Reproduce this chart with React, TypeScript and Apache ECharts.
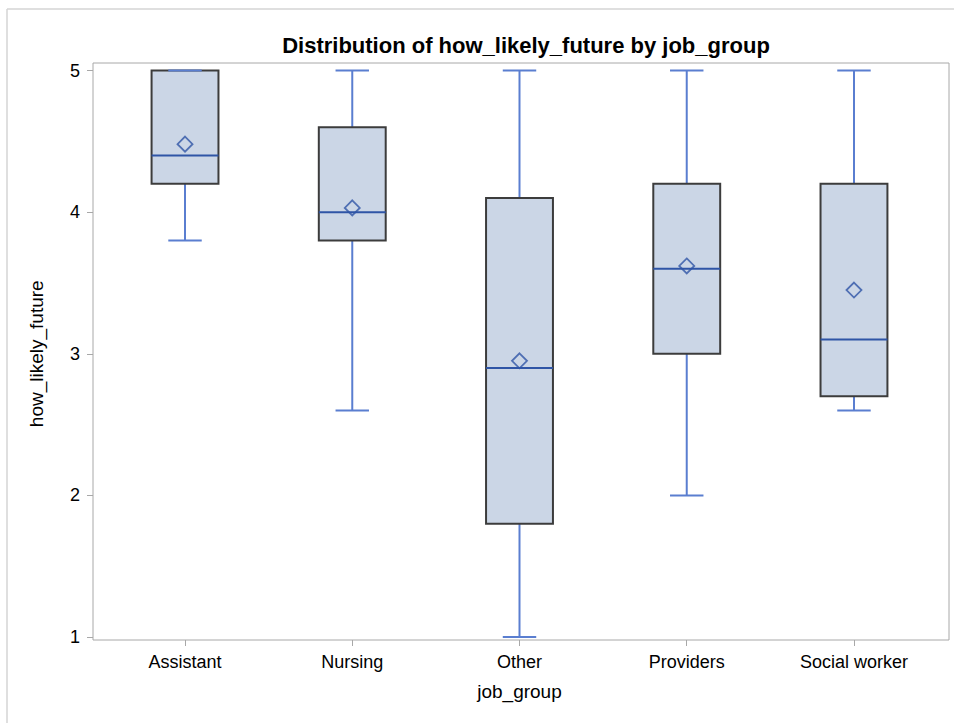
import React, { useEffect, useRef } from "react";
import * as echarts from "echarts";

const categories = ["Assistant", "Nursing", "Other", "Providers", "Social worker"];
const minValues = [3.8, 2.6, 1.0, 2.0, 2.6];
const q1Values = [4.2, 3.8, 1.8, 3.0, 2.7];
const medianValues = [4.4, 4.0, 2.9, 3.6, 3.1];
const q3Values = [5.0, 4.6, 4.1, 4.2, 4.2];
const maxValues = [5.0, 5.0, 5.0, 5.0, 5.0];
const meanValues = [4.48, 4.03, 2.95, 3.62, 3.45];

const BOX_FILL = "#cbd6e6";
const BOX_EDGE = "#3c3c3c";
const MEDIAN = "#2f55a6";
const WHISKER = "#5a7ed0";
const FONT = "Liberation Sans";

export default function App() {
  const ref = useRef<HTMLDivElement>(null);
  useEffect(() => {
    if (!ref.current) return;
    const chart = echarts.init(ref.current, null, { renderer: "svg" });
    const boxData = categories.map((_, i) => [
      i,
      minValues[i],
      q1Values[i],
      medianValues[i],
      q3Values[i],
      maxValues[i],
    ]);
    const meanData = categories.map((_, i) => [i, meanValues[i]]);
    chart.setOption({
      animation: false,
      title: {
        text: "Distribution of how_likely_future by job_group",
        left: 521,
        top: 29,
        textAlign: "center",
        textStyle: {
          fontFamily: FONT,
          fontSize: 22,
          fontWeight: "bold",
          color: "#000",
        },
      },
      graphic: [
        {
          type: "line",
          shape: { x1: 7, y1: 9, x2: 954, y2: 9 },
          style: { stroke: "#d4d4d4", lineWidth: 1.5 },
          silent: true,
        },
        {
          type: "line",
          shape: { x1: 7, y1: 9, x2: 7, y2: 723 },
          style: { stroke: "#d4d4d4", lineWidth: 1.5 },
          silent: true,
        },
      ],
      grid: [
        {
          left: 93,
          right: 5,
          top: 63,
          bottom: 83,
          show: true,
          borderColor: "#a8a8a8",
          borderWidth: 1,
          backgroundColor: "transparent",
        },
        {
          left: 101.4,
          right: 16.4,
          top: 70.5,
          bottom: 86,
        },
      ],
      xAxis: [
        { gridIndex: 0, type: "value", show: false, min: 0, max: 1 },
        {
          gridIndex: 1,
          type: "category",
          data: categories,
          offset: 3,
          name: "job_group",
          nameLocation: "middle",
          nameGap: 42,
          nameTextStyle: { fontFamily: FONT, fontSize: 19, color: "#000" },
          axisLine: { show: false },
          axisTick: {
            show: true,
            alignWithLabel: true,
            length: 6,
            lineStyle: { color: "#a8a8a8" },
          },
          axisLabel: {
            margin: 13,
            fontFamily: FONT,
            fontSize: 18,
            color: "#000",
          },
          splitLine: { show: false },
        },
      ],
      yAxis: [
        { gridIndex: 0, type: "value", show: false, min: 0, max: 1 },
        {
          gridIndex: 1,
          type: "value",
          min: 1,
          max: 5,
          interval: 1,
          offset: 8.4,
          name: "how_likely_future",
          nameLocation: "middle",
          nameGap: 47,
          nameTextStyle: { fontFamily: FONT, fontSize: 19, color: "#000" },
          axisLine: { show: false },
          axisTick: { show: true, length: 6, lineStyle: { color: "#a8a8a8" } },
          axisLabel: {
            margin: 13,
            fontFamily: FONT,
            fontSize: 18,
            color: "#000",
          },
          splitLine: { show: false },
        },
      ],
      series: [
        {
          type: "custom",
          xAxisIndex: 1,
          yAxisIndex: 1,
          data: boxData,
          renderItem: (params: any, api: any) => {
            const idx = api.value(0);
            const band = api.size([1, 0])[0];
            const bw = band * 0.4;
            const cw = band * 0.2;
            const pMin = api.coord([idx, api.value(1)]);
            const pQ1 = api.coord([idx, api.value(2)]);
            const pMed = api.coord([idx, api.value(3)]);
            const pQ3 = api.coord([idx, api.value(4)]);
            const pMax = api.coord([idx, api.value(5)]);
            const cx = pQ1[0];
            const ws = { stroke: WHISKER, lineWidth: 2 };
            return {
              type: "group",
              children: [
                {
                  type: "line",
                  shape: { x1: cx, y1: pQ1[1], x2: cx, y2: pMin[1] },
                  style: ws,
                },
                {
                  type: "line",
                  shape: { x1: cx, y1: pQ3[1], x2: cx, y2: pMax[1] },
                  style: ws,
                },
                {
                  type: "rect",
                  shape: { x: cx - bw / 2, y: pQ3[1], width: bw, height: pQ1[1] - pQ3[1] },
                  style: { fill: BOX_FILL, stroke: BOX_EDGE, lineWidth: 2 },
                },
                {
                  type: "line",
                  shape: { x1: cx - bw / 2, y1: pMed[1], x2: cx + bw / 2, y2: pMed[1] },
                  style: { stroke: MEDIAN, lineWidth: 2 },
                },
                {
                  type: "line",
                  shape: { x1: cx - cw / 2, y1: pMin[1], x2: cx + cw / 2, y2: pMin[1] },
                  style: ws,
                },
                {
                  type: "line",
                  shape: { x1: cx - cw / 2, y1: pMax[1], x2: cx + cw / 2, y2: pMax[1] },
                  style: ws,
                },
              ],
            };
          },
          z: 2,
        },
        {
          type: "scatter",
          xAxisIndex: 1,
          yAxisIndex: 1,
          data: meanData,
          symbol: "diamond",
          symbolSize: [15, 15],
          itemStyle: { color: "transparent", borderColor: MEDIAN, borderWidth: 1.8 },
          z: 3,
        },
      ],
    });
    return () => chart.dispose();
  }, []);
  return (
    <div
      ref={ref}
      style={{ position: "fixed", left: 0, top: 0, width: 954, height: 723, background: "#fff" }}
    />
  );
}
